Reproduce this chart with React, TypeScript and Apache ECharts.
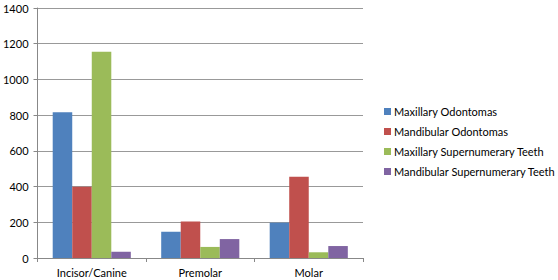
import React, { useEffect, useRef } from "react";
import * as echarts from "echarts";

const categories = ["Incisor/Canine", "Premolar", "Molar"];
const seriesNames = [
  "Maxillary Odontomas",
  "Mandibular Odontomas",
  "Maxillary Supernumerary Teeth",
  "Mandibular Supernumerary Teeth",
];
const maxillaryOdontomas = [816, 147, 198];
const mandibularOdontomas = [399, 205, 455];
const maxillarySupernumerary = [1155, 62, 32];
const mandibularSupernumerary = [35, 106, 67];
const colors = ["#4F81BD", "#C0504D", "#9BBB59", "#8064A2"];

export default function App() {
  const ref = useRef<HTMLDivElement>(null);
  useEffect(() => {
    if (!ref.current) return;
    const chart = echarts.init(ref.current, undefined, { renderer: "svg" });
    const font = "Lato, 'Open Sans', sans-serif";
    const data = [maxillaryOdontomas, mandibularOdontomas, maxillarySupernumerary, mandibularSupernumerary];
    chart.setOption({
      animation: false,
      backgroundColor: "#ffffff",
      grid: { left: 37, top: 8, width: 326, height: 250, containLabel: false },
      legend: {
        orient: "vertical",
        left: 379,
        top: 101,
        itemWidth: 7,
        itemHeight: 7,
        itemGap: 9,
        icon: "rect",
        textStyle: { fontFamily: font, fontSize: 11, color: "#000", padding: [0, 0, 0, -2] },
        data: seriesNames,
      },
      xAxis: {
        type: "category",
        data: categories,
        axisLine: { lineStyle: { color: "#888888" } },
        axisTick: { show: true, length: 4, lineStyle: { color: "#888888" } },
        axisLabel: { fontFamily: font, fontSize: 11, color: "#000", margin: 9 },
      },
      yAxis: {
        type: "value",
        min: 0,
        max: 1400,
        interval: 200,
        axisLine: { show: true, lineStyle: { color: "#888888" } },
        axisTick: { show: true, length: 4, lineStyle: { color: "#888888" } },
        axisLabel: {
          fontFamily: font,
          fontSize: 11,
          color: "#000",
          margin: 9,
          formatter: (v: number) => String(v),
        },
        splitLine: { lineStyle: { color: "#999999", width: 1 } },
      },
      series: seriesNames.map((name, i) => ({
        name,
        type: "bar",
        data: data[i],
        itemStyle: { color: colors[i] },
        barGap: "0%",
        barCategoryGap: "28%",
      })),
    });
    return () => chart.dispose();
  }, []);
  return <div ref={ref} style={{ width: 558, height: 280, position: "fixed", left: 0, top: 0 }} />;
}
